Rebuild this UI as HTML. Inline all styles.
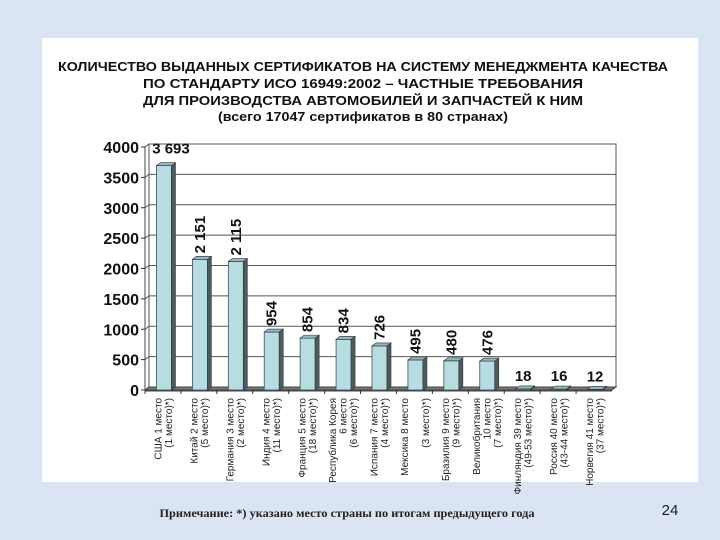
<!DOCTYPE html>
<html><head><meta charset="utf-8">
<style>
html,body{margin:0;padding:0;width:720px;height:540px;overflow:hidden;background:#dae4f3;}
svg{display:block;font-family:"Liberation Sans",sans-serif;}
</style></head>
<body>
<svg width="720" height="540" viewBox="0 0 720 540">
<rect x="0" y="0" width="720" height="540" fill="#dae4f3"/>
<rect x="42" y="38" width="656" height="444" fill="#fff"/>
<g font-weight="bold" font-size="13" text-anchor="middle" fill="#111">
<text x="363" y="71" textLength="610" lengthAdjust="spacingAndGlyphs">КОЛИЧЕСТВО ВЫДАННЫХ СЕРТИФИКАТОВ НА СИСТЕМУ МЕНЕДЖМЕНТА КАЧЕСТВА</text>
<text x="363" y="88" textLength="440" lengthAdjust="spacingAndGlyphs">ПО СТАНДАРТУ ИСО 16949:2002 – ЧАСТНЫЕ ТРЕБОВАНИЯ</text>
<text x="363" y="105" textLength="440" lengthAdjust="spacingAndGlyphs">ДЛЯ ПРОИЗВОДСТВА АВТОМОБИЛЕЙ И ЗАПЧАСТЕЙ К НИМ</text>
<text x="363" y="121" textLength="290" lengthAdjust="spacingAndGlyphs">(всего 17047 сертификатов в 80 странах)</text>
</g>
<g id="plot"></g>
<text x="347" y="517" font-family="Liberation Serif,serif" font-weight="bold" font-size="12" fill="#222" text-anchor="middle" textLength="375" lengthAdjust="spacingAndGlyphs">Примечание: *) указано место страны по итогам предыдущего года</text>
<text x="670" y="515" font-size="15" fill="#222" text-anchor="middle">24</text>
</svg>
<script>
const categories=[["США 1 место","(1 место)*)"],["Китай 2 место","(5 место)*)"],["Германия 3 место","(2 место)*)"],["Индия 4 место","(11 место)*)"],["Франция 5 место","(18 место)*)"],["Республика  Корея","6  место","(6 место)*)"],["Испания 7 место","(4 место)*)"],["Мексика 8 место","","(3 место)*)"],["Бразилия 9 место","(9 место)*)"],["Великобритания","10 место","(7 место)*)"],["Финляндия 39 место","(49-53 место)*)"],["Россия 40 место","(43-44 место)*)"],["Норвегия  41 место","(37 место)*)"]];
const values=[3693,2151,2115,954,854,834,726,495,480,476,18,16,12];
const valueLabels=["3 693","2 151","2 115","954","854","834","726","495","480","476","18","16","12"];
const yTicks=[0,500,1000,1500,2000,2500,3000,3500,4000];

const NS="http://www.w3.org/2000/svg";
const plot=document.getElementById('plot');
const x0=145,x1=612,y0=390,yTop=147,yMax=4000,dx=4,dy=3;
const y=v=>y0-(v/yMax)*(y0-yTop);
const cw=(x1-x0)/categories.length;
const xc=i=>x0+cw*(i+0.5);
function mk(t,a,p){const e=document.createElementNS(NS,t);for(const k in a)e.setAttribute(k,a[k]);(p||plot).appendChild(e);return e;}
let w=mk('rect',{x:x0+dx,y:yTop-dy,width:x1-x0,height:y0-yTop,fill:'#fff',stroke:'#555','stroke-width':1});


yTicks.forEach(v=>{
 let g=mk('line',{x1:x0+dx,x2:x1+dx,y1:y(v)-dy,y2:y(v)-dy,stroke:'#555','stroke-width':1});
 
 
 let d=mk('line',{x1:x0,x2:x0+dx,y1:y(v),y2:y(v)-dy,stroke:'#555'});
 
 
 let tk=mk('line',{x1:x0-4,x2:x0,y1:y(v),y2:y(v),stroke:'#333'});
 
 
 let t=mk('text',{x:x0-6,y:y(v)+6,'text-anchor':'end','font-size':16,'font-weight':'bold',fill:'#111'});
 t.textContent=v;
 
 
});
let f=mk('polygon',{points:`${x0},${y0} ${x1},${y0} ${x1+dx},${y0-dy} ${x0+dx},${y0-dy}`,fill:'#777',stroke:'#444'});


let ax=mk('line',{x1:x0,x2:x0,y1:yTop,y2:y0,stroke:'#444'});


let ax2=mk('line',{x1:x0,x2:x1,y1:y0+1,y2:y0+1,stroke:'#444'});


const bw=15;
values.forEach((v,i)=>{
 const cx=xc(i),bx=cx-bw/2+1,by=y(v);
 const g=mk('g',{});
 
 
 mk('rect',{x:bx,y:by,width:bw,height:y0-by,fill:'#b7dde3',stroke:'#3f4f55','stroke-width':0.8},g);
 mk('polygon',{points:`${bx+bw},${by} ${bx+bw+dx},${by-dy} ${bx+bw+dx},${y0-dy} ${bx+bw},${y0}`,fill:'#4d5b5f',stroke:'#333','stroke-width':0.6},g);
 mk('polygon',{points:`${bx},${by} ${bx+dx},${by-dy} ${bx+bw+dx},${by-dy} ${bx+bw},${by}`,fill:'#8fb9bf',stroke:'#333','stroke-width':0.6},g);
 const lab=valueLabels[i];
 let t;
 if(i===0||v<100){
  t=mk('text',{x:cx+(i===0?8:1),y:by-(i===0?12:8),'text-anchor':'middle','font-size':15,'font-weight':'bold',fill:'#111'});
 }else{
  t=mk('text',{x:0,y:0,transform:`translate(${cx+6},${by-6}) rotate(-90)`,'font-size':15,'font-weight':'bold',fill:'#111'});
 }
 t.textContent=lab;
 
 
 let tk=mk('line',{x1:x0+cw*i,x2:x0+cw*i,y1:y0,y2:y0+4,stroke:'#333'});
 
 
 const lines=categories[i];
 const lh=10.5,n=lines.length;
 lines.forEach((s,j)=>{
  const lx=cx-((n-1)/2)*lh+j*lh+4;
  let lt=mk('text',{x:0,y:0,transform:`translate(${lx},398) rotate(-90)`,'text-anchor':'end','font-size':10,fill:'#222'});
  lt.textContent=s;
  
  
 });
});
</script>
</body></html>
